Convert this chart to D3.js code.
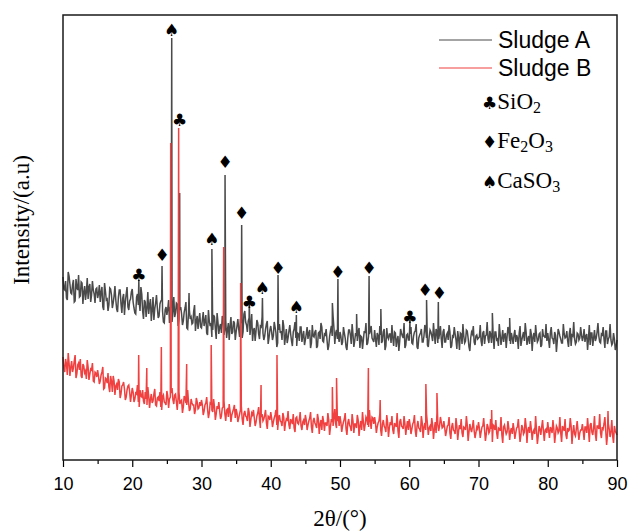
<!DOCTYPE html>
<html>
<head>
<meta charset="utf-8">
<script src="https://cdn.jsdelivr.net/npm/d3@7"></script>
<style>
  body { margin: 0; background: #fff; }
  svg { display: block; }
</style>
</head>
<body>
<svg id="chart" width="629" height="531"></svg>
<script>

//------------------------------------------------------------------------------

const dLog = console.debug;

/** the base arrays are sampled from 10° every 0.25° (2θ);
 * the mid arrays hold the samples half way between them. */
const thetaStart = 10, thetaStep = 0.25;

const seriesNames = ['Sludge A', 'Sludge B'];

/** Sludge A (offset upwards), intensity a.u. */
const sludgeABase = [
  183, 170, 162, 188, 176, 166, 180, 159, 172, 185, 164, 177, 168, 160, 182, 173, 158, 179, 166, 171,
  162, 175, 168, 153, 177, 160, 149, 172, 165, 157, 174, 151, 163, 170, 147, 166, 158, 173, 150, 161,
  171, 152, 146, 166, 158, 173, 149, 160, 143, 168, 155, 139, 163, 151, 165, 142, 156, 160, 138, 150,
  145, 160, 152, 138, 163, 147, 156, 141, 153, 135, 148, 158, 131, 150, 143, 137, 155, 139, 131, 147,
  132, 148, 139, 127, 150, 134, 123, 145, 131, 147, 126, 136, 144, 125, 140, 130, 120, 143, 128, 137,
  128, 141, 123, 137, 128, 149, 135, 139, 125, 146, 130, 119, 140, 126, 134, 143, 120, 131, 139, 122,
  134, 120, 138, 127, 117, 136, 129, 140, 115, 131, 122, 135, 119, 128, 138, 114, 126, 133, 118, 129,
  120, 133, 127, 112, 135, 123, 130, 114, 128, 137, 119, 126, 131, 110, 124, 134, 144, 116, 130, 125,
  128, 115, 133, 122, 110, 130, 125, 136, 113, 127, 119, 132, 124, 111, 129, 137, 117, 126, 134, 120,
  130, 113, 124, 134, 117, 128, 110, 132, 121, 126, 135, 114, 127, 120, 109, 131, 124, 137, 115, 126,
  120, 133, 116, 128, 136, 111, 125, 131, 118, 135, 122, 113, 130, 124, 137, 116, 128, 121, 134, 112,
  131, 118, 127, 135, 112, 124, 133, 120, 129, 110, 126, 136, 117, 130, 122, 109, 128, 134, 115, 125,
  122, 135, 114, 129, 124, 138, 117, 126, 132, 111, 128, 121, 136, 115, 130, 125, 112, 133, 119, 127,
  116, 130, 125, 111, 134, 120, 128, 137, 115, 124, 131, 109, 127, 135, 118, 126, 113, 131, 124, 136,
  127, 112, 133, 121, 128, 108, 131, 124, 117, 136, 122, 129, 113, 132, 125, 138, 116, 127, 120, 133,
  119, 131, 124, 110, 135, 127, 114, 130, 122, 137, 118, 126, 133, 112, 129, 121, 136, 115, 127, 110,
  120
];
const sludgeAMid = [
  171, 179, 160, 184, 167, 175, 158, 181, 170, 163, 178, 156, 174, 168, 161, 176, 165, 170, 157, 172,
  166, 158, 173, 150, 169, 161, 155, 171, 152, 164, 160, 148, 170, 156, 162, 145, 166, 153, 159, 168,
  158, 147, 163, 155, 149, 166, 141, 158, 152, 146, 161, 150, 140, 157, 152, 144, 159, 149, 137, 153,
  151, 137, 155, 149, 143, 157, 134, 150, 146, 139, 152, 132, 147, 141, 136, 149, 129, 144, 140, 133,
  140, 134, 145, 125, 139, 137, 130, 143, 121, 138, 133, 127, 141, 131, 122, 137, 134, 126, 139, 120,
  134, 131, 141, 122, 146, 138, 128, 142, 134, 119, 132, 129, 137, 121, 133, 127, 124, 136, 116, 130,
  128, 124, 133, 113, 130, 127, 120, 134, 123, 117, 129, 126, 114, 131, 122, 127, 119, 133, 124, 115,
  126, 121, 130, 117, 124, 128, 112, 127, 121, 133, 118, 125, 120, 114, 129, 124, 132, 127, 121, 118,
  124, 118, 127, 113, 122, 130, 116, 126, 119, 124, 128, 112, 123, 120, 127, 115, 124, 129, 122, 118,
  121, 127, 115, 125, 119, 131, 114, 123, 126, 117, 122, 128, 113, 124, 119, 127, 122, 112, 125, 120,
  126, 117, 124, 129, 113, 122, 127, 118, 124, 130, 115, 123, 128, 119, 125, 131, 117, 126, 121, 128,
  118, 125, 120, 128, 114, 123, 126, 111, 122, 127, 116, 124, 119, 129, 113, 122, 126, 118, 124, 121,
  123, 119, 127, 116, 125, 121, 129, 117, 124, 128, 120, 114, 126, 122, 118, 127, 123, 129, 116, 122,
  125, 118, 122, 127, 114, 124, 119, 128, 121, 116, 126, 123, 118, 125, 120, 127, 115, 124, 122, 119,
  120, 127, 122, 116, 125, 119, 128, 121, 117, 126, 123, 119, 127, 114, 124, 121, 118, 126, 122, 125,
  123, 118, 126, 121, 115, 127, 122, 119, 128, 124, 117, 125, 121, 129, 116, 123, 120, 117, 121, 114
];

/** Sludge B, intensity a.u. */
const sludgeBBase = [
  103, 88, 96, 107, 84, 99, 92, 105, 86, 97, 101, 82, 94, 89, 100, 80, 91, 97, 78, 87,
  90, 76, 85, 93, 72, 81, 87, 68, 79, 84, 65, 76, 81, 62, 74, 78, 60, 70, 75, 58,
  72, 58, 67, 75, 53, 64, 70, 56, 61, 73, 52, 66, 59, 71, 54, 63, 68, 50, 65, 57,
  69, 52, 63, 72, 56, 66, 50, 68, 59, 47, 64, 57, 70, 49, 61, 55, 46, 62, 51, 58,
  60, 45, 55, 63, 42, 57, 50, 61, 40, 54, 58, 41, 52, 59, 39, 51, 56, 38, 48, 55,
  51, 38, 46, 54, 35, 49, 43, 52, 33, 47, 50, 34, 44, 53, 32, 46, 41, 50, 31, 43,
  48, 33, 42, 50, 30, 45, 38, 47, 29, 41, 49, 31, 39, 46, 28, 43, 36, 48, 30, 40,
  45, 30, 39, 48, 27, 42, 35, 46, 26, 40, 44, 29, 37, 47, 25, 41, 34, 51, 32, 44,
  44, 28, 38, 47, 25, 41, 33, 46, 27, 36, 45, 24, 39, 48, 29, 43, 35, 50, 31, 42,
  43, 27, 37, 46, 24, 40, 32, 45, 23, 38, 44, 26, 35, 47, 22, 41, 33, 44, 25, 39,
  41, 26, 36, 45, 23, 39, 31, 44, 22, 37, 46, 25, 34, 42, 21, 38, 47, 29, 43, 32,
  39, 24, 34, 43, 21, 37, 29, 42, 20, 35, 41, 23, 32, 44, 19, 36, 28, 40, 22, 33,
  38, 22, 33, 42, 19, 36, 27, 41, 18, 34, 40, 21, 31, 43, 17, 35, 26, 39, 20, 32,
  37, 21, 32, 41, 18, 35, 26, 42, 17, 33, 39, 20, 30, 44, 16, 34, 25, 40, 19, 31,
  38, 22, 31, 40, 17, 34, 27, 43, 18, 32, 41, 21, 29, 42, 16, 35, 24, 39, 20, 30,
  36, 20, 33, 42, 18, 37, 25, 44, 19, 34, 46, 22, 31, 43, 15, 36, 23, 40, 17, 29,
  25
];
const sludgeBMid = [
  92, 101, 85, 97, 93, 88, 99, 82, 95, 90, 84, 96, 87, 81, 93, 86, 90, 79, 88, 83,
  84, 79, 88, 71, 82, 77, 73, 84, 68, 79, 74, 70, 78, 66, 75, 71, 63, 74, 68, 65,
  68, 61, 66, 58, 70, 63, 59, 68, 55, 64, 61, 57, 66, 55, 62, 59, 53, 63, 58, 55,
  64, 61, 67, 60, 65, 58, 63, 56, 60, 53, 62, 55, 58, 51, 57, 55, 50, 58, 52, 54,
  55, 49, 57, 51, 47, 56, 48, 53, 46, 51, 49, 44, 53, 46, 50, 43, 49, 45, 51, 42,
  47, 42, 50, 41, 46, 44, 39, 48, 40, 45, 42, 38, 47, 41, 43, 39, 45, 37, 44, 40,
  42, 38, 45, 35, 41, 39, 34, 43, 37, 40, 35, 41, 36, 32, 42, 37, 40, 34, 38, 35,
  40, 35, 42, 33, 39, 37, 32, 41, 36, 30, 39, 37, 34, 40, 33, 38, 42, 36, 39, 34,
  38, 34, 41, 31, 37, 35, 29, 39, 36, 32, 40, 34, 30, 38, 35, 41, 33, 39, 43, 36,
  37, 33, 39, 30, 36, 34, 28, 38, 32, 35, 30, 37, 33, 29, 38, 34, 31, 36, 33, 30,
  35, 31, 38, 29, 34, 32, 28, 37, 33, 30, 36, 32, 29, 35, 31, 27, 36, 34, 38, 33,
  32, 29, 35, 27, 33, 30, 26, 34, 29, 31, 27, 33, 30, 35, 28, 31, 33, 29, 27, 31,
  32, 28, 34, 30, 26, 33, 29, 31, 35, 30, 27, 32, 29, 25, 33, 30, 28, 32, 29, 26,
  31, 27, 33, 29, 25, 32, 28, 34, 30, 27, 31, 28, 26, 30, 24, 31, 33, 29, 30, 27,
  30, 33, 27, 31, 26, 32, 29, 27, 34, 29, 25, 32, 30, 34, 28, 26, 31, 29, 27, 30,
  29, 33, 27, 31, 35, 28, 32, 26, 34, 31, 27, 33, 36, 29, 25, 31, 28, 24, 34, 27
];

/** diffraction peaks : [2θ, intensity] */
const sludgeAPeaks = [
  [20.95, 180], [24.3, 194], [25.7, 422], [26.85, 267], [28.2, 167], [31.5, 211],
  [33.4, 285], [35.8, 235], [36.9, 158], [38.8, 162], [41.05, 185], [43.7, 145],
  [48.9, 157], [49.7, 181], [52.4, 146], [54.2, 184], [55.9, 151], [60.1, 140],
  [62.5, 160], [64.2, 158], [72.0, 147], [74.5, 142]
];
const sludgeBPeaks = [
  [20.93, 105], [22.1, 92], [24.2, 113], [25.55, 317], [26.7, 332], [27.86, 96],
  [31.4, 115], [33.2, 213], [35.65, 177], [38.6, 75], [40.9, 105], [48.9, 73],
  [49.5, 82], [54.1, 92], [55.8, 60], [62.4, 76], [64.0, 67], [71.9, 50], [88.7, 49]
];

/** phase identification marks : [phase, 2θ, intensity] */
const phaseMarks = [
  ['CaSO3', 25.7, 430], ['SiO2', 26.85, 340], ['Fe2O3', 33.4, 298], ['Fe2O3', 35.8, 247],
  ['CaSO3', 31.5, 221], ['Fe2O3', 24.3, 205], ['SiO2', 20.97, 185], ['SiO2', 36.9, 158],
  ['CaSO3', 38.8, 172], ['Fe2O3', 41.05, 192], ['CaSO3', 43.7, 153], ['Fe2O3', 49.7, 188],
  ['Fe2O3', 54.2, 192], ['SiO2', 60.1, 143], ['Fe2O3', 62.3, 170], ['Fe2O3', 64.35, 167]
];

const phaseNames = ['SiO2', 'Fe2O3', 'CaSO3'];
const phaseSymbols = ['\u2663', '\u2666', '\u2660'];

const xTicks = d3.range(10, 91, 10);
const xMinorTicks = d3.range(15, 90, 10);

//------------------------------------------------------------------------------

const
svg = d3.select('#chart'),
margin = {left: 63, right: 12, top: 15, bottom: 71},
width = +svg.attr('width'),
height = +svg.attr('height'),
x = d3.scaleLinear().domain([10, 90]).range([margin.left, width - margin.right]),
y = d3.scaleLinear().domain([0, 445]).range([height - margin.bottom, margin.top]),
colours = ['#4a4a4a', '#f04040'],
symbolOf = d3.scaleOrdinal(phaseNames, phaseSymbols),
serif = '"Liberation Serif", "Times New Roman", serif',
sans = '"Liberation Sans", Arial, sans-serif';

/** merge the baseline samples, the half-step samples and the peak apexes, sorted by 2θ. */
function patternPoints(base, mid, peaks) {
  const points = base.map((v, i) => [thetaStart + i * thetaStep, v])
    .concat(mid.map((v, i) => [thetaStart + (i + 0.5) * thetaStep, v]))
    .concat(peaks);
  points.sort((a, b) => a[0] - b[0]);
  return points;
}

const patterns = [
  patternPoints(sludgeABase, sludgeAMid, sludgeAPeaks),
  patternPoints(sludgeBBase, sludgeBMid, sludgeBPeaks)
];
dLog('patterns', patterns.map(p => p.length));

const line = d3.line()
  .x(d => x(d[0]))
  .y(d => y(d[1]));

svg.append('g')
  .attr('class', 'patterns')
  .selectAll('path')
  .data(patterns)
  .join('path')
  .attr('d', line)
  .attr('fill', 'none')
  .attr('stroke', (d, i) => colours[i])
  .attr('stroke-width', 1.5)
  .attr('stroke-linejoin', 'miter');

// phase marks
svg.append('g')
  .attr('class', 'phase-marks')
  .selectAll('text')
  .data(phaseMarks)
  .join('text')
  .attr('x', d => x(d[1]))
  .attr('y', d => y(d[2]))
  .attr('text-anchor', 'middle')
  .attr('dominant-baseline', 'central')
  .style('font-family', '"DejaVu Sans", sans-serif')
  .style('font-size', '17px')
  .attr('fill', '#000')
  .text(d => symbolOf(d[0]));

//------------------------------------------------------------------------------
// axes and frame

const xAxis = svg.append('g')
  .attr('transform', `translate(0,${y.range()[0]})`)
  .call(d3.axisBottom(x).tickValues(xTicks).tickSize(7).tickSizeOuter(0).tickPadding(10));
xAxis.select('.domain').remove();
xAxis.selectAll('.tick line').attr('stroke', '#000').attr('stroke-width', 1.2);
xAxis.selectAll('.tick text')
  .style('font-family', sans)
  .style('font-size', '18px')
  .attr('fill', '#000');

const xMinor = svg.append('g')
  .attr('transform', `translate(0,${y.range()[0]})`)
  .call(d3.axisBottom(x).tickValues(xMinorTicks).tickSize(4).tickSizeOuter(0).tickFormat(''));
xMinor.select('.domain').remove();
xMinor.selectAll('.tick line').attr('stroke', '#000').attr('stroke-width', 1.2);

svg.append('rect')
  .attr('x', x.range()[0])
  .attr('y', y.range()[1])
  .attr('width', x.range()[1] - x.range()[0])
  .attr('height', y.range()[0] - y.range()[1])
  .attr('fill', 'none')
  .attr('stroke', '#1a1a1a')
  .attr('stroke-width', 1.5);

svg.append('text')
  .attr('x', (x.range()[0] + x.range()[1]) / 2)
  .attr('y', 526)
  .attr('text-anchor', 'middle')
  .style('font-family', serif)
  .style('font-size', '23px')
  .text('2\u03b8/(\u00b0)');

svg.append('text')
  .attr('transform', 'translate(29,220) rotate(-90)')
  .attr('text-anchor', 'middle')
  .style('font-family', serif)
  .style('font-size', '23px')
  .text('Intensity/(a.u)');

//------------------------------------------------------------------------------
// legend

const legend = svg.append('g').attr('class', 'legend');

const seriesRows = legend.selectAll('g.series')
  .data(seriesNames)
  .join('g')
  .attr('class', 'series')
  .attr('transform', (d, i) => `translate(439,${40 + i * 28})`);
seriesRows.append('line')
  .attr('x1', 0).attr('x2', 53)
  .attr('stroke', (d, i) => colours[i])
  .attr('stroke-width', 1.2);
seriesRows.append('text')
  .attr('x', 59)
  .attr('y', 8)
  .style('font-family', sans)
  .style('font-size', '23px')
  .text(d => d);

const phaseRows = legend.selectAll('text.phase')
  .data(phaseNames)
  .join('text')
  .attr('class', 'phase')
  .attr('x', 482)
  .attr('y', (d, i) => [109, 148, 188][i])
  .style('font-family', serif)
  .style('font-size', '23px');
phaseRows.append('tspan')
  .style('font-family', '"DejaVu Sans", sans-serif')
  .style('font-size', '17px')
  .text(d => symbolOf(d));
phaseRows.each(function (d) {
  const t = d3.select(this);
  d.match(/[A-Za-z]+|\d+/g).forEach(part => {
    const sub = /^\d+$/.test(part);
    t.append('tspan')
      .attr('baseline-shift', sub ? '-25%' : null)
      .style('font-size', sub ? '16px' : null)
      .text(part);
  });
});

</script>
</body>
</html>
